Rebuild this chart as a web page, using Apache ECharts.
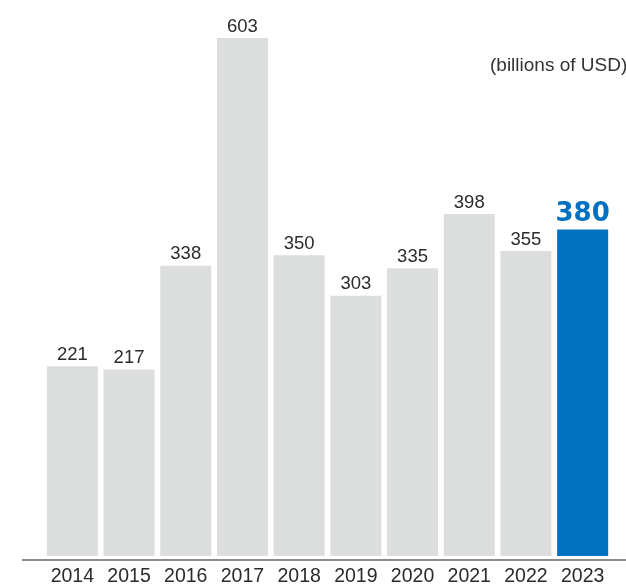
<!DOCTYPE html>
<html><head><meta charset="utf-8">
<script src="https://cdn.jsdelivr.net/npm/echarts@6/dist/echarts.min.js"></script>
<style>html,body{margin:0;padding:0;background:#fff}#c{width:626px;height:587px}</style>
</head><body><div id="c"></div>
<script>
const categories = ['2014','2015','2016','2017','2018','2019','2020','2021','2022','2023'];
const values = [221, 217, 338, 603, 350, 303, 335, 398, 355, 380];
const highlightIndex = 9;
const unitLabel = '(billions of USD)';

const chart = echarts.init(document.getElementById('c'));
const data = values.map((v, i) => i === highlightIndex ? {
  value: v,
  itemStyle: { color: '#0071c1' },
  label: { color: '#0071c1', fontWeight: 'bold', fontSize: 26, fontFamily: 'DejaVu Sans', distance: 2 }
} : v);

chart.setOption({
  animation: false,
  grid: { left: 44, right: 15, top: 38, bottom: 27, containLabel: false },
  xAxis: {
    type: 'category', data: categories,
    axisLine: { show: false }, axisTick: { show: false },
    axisLabel: { color: '#2b2b2b', fontSize: 19.5, fontFamily: 'Liberation Sans', margin: 11 }
  },
  yAxis: { type: 'value', min: 0, max: 603, show: false, splitLine: { show: false } },
  series: [{
    type: 'bar', data: data, barCategoryGap: '10%',
    itemStyle: { color: '#dcdddd' },
    label: { show: true, position: 'top', distance: 2, color: '#2b2b2b', fontSize: 18.5, fontFamily: 'Liberation Sans' }
  }],
  graphic: [
    { type: 'line', shape: { x1: 22, y1: 560, x2: 626, y2: 560 }, style: { stroke: '#1a1a1a', lineWidth: 1.2 } },
    { type: 'text', left: 490, top: 56, style: { text: unitLabel, fill: '#333', fontSize: 19, fontFamily: 'Liberation Sans' } }
  ]
});
</script></body></html>
